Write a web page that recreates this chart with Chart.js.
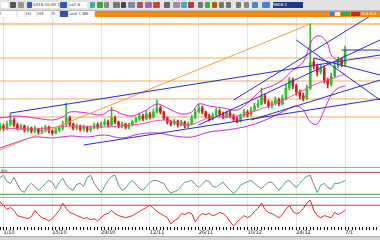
<!DOCTYPE html>
<html><head><meta charset="utf-8">
<script src="https://cdn.jsdelivr.net/npm/chart.js@4.4.1/dist/chart.umd.min.js"></script>
<style>
html,body{margin:0;padding:0;background:#fff;width:380px;height:240px;overflow:hidden;font-family:"DejaVu Sans",sans-serif}
.abs{position:absolute}
#tb{left:0;top:0;width:380px;height:10px;background:#e2e2e2;border-bottom:1px solid #b8b8b8}
#tabs{left:0;top:11px;width:380px;height:6px;background:#e9e9e9}
#orange{left:95px;top:11px;width:285px;height:6px;background:#f08a12}
.tx{font-size:4px;line-height:6px;color:#333;white-space:nowrap;overflow:hidden}
canvas{position:absolute;left:0}
#bottom{left:0;top:236px;width:380px;height:4px;background:#d6d6d6;border-top:1px solid #aaa}
</style></head><body>
<div id="tb" class="abs"></div>
<div id="tabs" class="abs"></div>
<div id="orange" class="abs"></div>
<canvas id="main" width="380" height="151" style="top:17px"></canvas>
<canvas id="osc1" width="380" height="30" style="top:168px"></canvas>
<canvas id="osc2" width="380" height="38" style="top:198px"></canvas>
<div class="abs" style="left:0;top:167px;width:380px;height:1px;background:#9aaea6"></div>
<div class="abs" style="left:0;top:197px;width:380px;height:1px;background:#b0b0b0"></div>
<div class="abs tx" style="left:1px;top:168px;font-size:4px;color:#444">Sto</div>
<div id="bottom" class="abs"></div>
<script>
// ---------- data ----------
const tickLabels = ['1/10','15/10','29/10','12/11','26/11','10/12','24/12','7/1'];
const firstOpen = 138;
const closes = [141,139,143,147,142,139,141,137,139,136,138,135,137,140,136,134,137,139,143,149,
  143,139,141,138,140,137,139,142,140,143,145,142,149,145,141,143,140,142,145,148,
  151,148,153,150,155,159,155,149,145,143,146,142,145,141,143,149,155,159,155,151,
  148,152,156,153,150,154,151,148,146,151,155,152,157,161,163,171,165,161,164,167,
  163,169,179,187,181,175,171,169,179,205,201,195,199,187,183,191,201,207,203,217];
const highs = [144,143,146,154,149,144,143,142,141,140,141,139,140,142,141,137,139,141,146,164,
  151,144,143,142,142,141,141,144,144,145,148,147,160,151,146,145,144,144,147,150,
  154,153,156,155,158,167,161,156,150,147,148,147,147,146,145,152,158,163,161,156,
  153,154,159,158,155,156,156,153,150,153,158,157,160,164,167,179,173,167,166,170,
  169,172,183,190,189,183,177,174,182,243,208,203,203,201,189,194,204,210,209,221];
const lows = [136,136,137,141,140,137,137,135,135,134,134,133,133,135,134,132,133,135,137,141,
  141,137,137,136,136,135,135,138,138,139,141,140,141,143,139,139,138,138,141,144,
  146,146,147,148,149,154,153,147,143,141,142,140,141,139,139,142,148,154,153,149,
  146,147,151,151,148,149,149,146,144,145,150,150,151,156,159,162,163,159,159,162,
  161,162,167,177,178,172,168,166,167,177,198,191,193,184,179,181,189,199,200,201];
const upperBand = [[0,149],[5,151],[10,149],[15,147],[18,150],[20,155],[25,154],[29,152],[32,157],[35,153],[38,151],[42,157],[45,163],[48,159],[52,153],[55,155],[57,163],[60,161],[64,159],[68,157],[72,167],[75,177],[78,181],[81,187],[84,197],[87,205],[89,223],[90,229],[92,231],[94,223],[95,212],[97,207],[99,212]];
const middleBand = [[0,139],[10,138],[20,141],[30,140],[40,143],[47,147],[54,142],[60,149],[68,151],[74,157],[80,165],[86,175],[90,182],[94,187],[99,193]];
const lowerBand = [[0,119],[5,125],[10,130],[15,129],[20,131],[25,130],[30,132],[35,129],[40,133],[45,134],[50,131],[55,130],[60,135],[65,137],[70,140],[74,144],[78,150],[82,157],[85,161],[87,157],[89,145],[91,143],[93,157],[95,172],[97,179],[99,181]];
const orangeTrend = [[0,117],[89,243]];
const levels = [243,209,186,168,150];
const blueLines = [
  [[3,154],[109,212]],
  [[24,122],[109,168]],
  [[67,167],[109,257]],
  [[57,142],[109,227]],
  [[72,147],[109,187]],
  [[85,227],[109,167]],
  [[90,209],[109,192]],
  [[98,217],[109,217]]
];
const stoch = [66,72,55,50,66,47,31,25,42,50,42,31,39,50,58,53,36,53,64,45,36,31,47,50,42,66,72,50,36,25,42,58,69,72,45,31,36,50,58,47,36,31,42,53,58,58,53,50,34,23,28,31,42,53,55,58,47,39,47,58,55,42,39,47,53,42,31,23,31,45,50,55,58,50,42,36,45,53,53,42,31,42,55,58,47,39,50,61,69,72,47,25,45,50,39,34,50,50,53,58];
const stochLevels = [80,20];
const rsi = [76,70,62,66,60,50,48,46,44,48,60,52,46,44,40,44,52,60,74,64,56,54,50,48,44,46,42,44,40,46,52,54,60,54,50,48,46,48,50,54,58,62,66,70,64,58,54,50,46,34,40,44,54,52,56,54,38,48,54,52,54,50,52,56,54,48,38,30,38,44,50,46,50,58,64,74,62,56,54,50,46,52,62,70,58,54,56,64,74,80,60,50,46,50,48,46,56,52,56,60];
const rsiLevel = 70;

// ---------- chrome (toolbar) ----------
const tbItems = [[1,7,'#fff'],[10,6,'#555'],[18,6,'#999'],[27,5,'#2f5db0'],[60,7,'#2f5db0'],[90,5,'#4aa'],[97,6,'#3a3'],[104,5,'#888'],[113,7,'#777'],[121,5,'#446'],[128,7,'#88a'],[137,6,'#a55'],[145,7,'#a6a'],[153,7,'#c44'],[164,6,'#666'],[173,7,'#a8a'],[181,6,'#4ac'],[188,6,'#c33'],[198,5,'#777'],[205,5,'#4a4'],[212,5,'#a60'],[219,5,'#777'],[226,5,'#777'],[236,5,'#777'],[244,5,'#888'],[252,6,'#48c'],[262,8,'#48c']];
const tb = document.getElementById('tb');
tbItems.forEach(([x,w,c])=>{const d=document.createElement('div');d.className='abs';d.style.cssText=`left:${x}px;top:2px;width:${w}px;height:6px;background:${c};border-radius:1px`;tb.appendChild(d);});
function addText(parent,x,y,w,h,bg,txt,col){const d=document.createElement('div');d.className='abs tx';d.style.cssText=`left:${x}px;top:${y}px;width:${w}px;height:${h}px;background:${bg};color:${col||'#333'};line-height:${h}px`;d.textContent=txt;parent.appendChild(d);}
addText(tb,33,2,26,6,'#fff','2016.10.09 12');
addText(tb,69,2,18,6,'#fff','co1 6');
addText(tb,273,2,30,6,'#1c3a8c','9606.1','#fff');
const tabs = document.getElementById('tabs');
addText(tabs,0,0,16,6,'#fff','t');
addText(tabs,18,0,6,6,'#fff','');
addText(tabs,26,0,10,6,'#fff','H1');
addText(tabs,38,0,12,6,'#fff','H4');
addText(tabs,52,0,6,6,'#fff','D');
addText(tabs,60,0,8,6,'#3a4fb0','');
addText(tabs,70,0,24,6,'#fff','usd 1 Wk');
const orange = document.getElementById('orange');
addText(orange,235,1,4,4,'#38c','');
addText(orange,240,1,5,4,'#fff','');
addText(orange,246,1,9,4,'#3a3','');
addText(orange,256,1,9,4,'#c22','');
addText(orange,267,0,18,6,'transparent','0.0 0.0','#fff');

// ---------- helpers ----------
const N = 110;
const slots = Array.from({length:N},(_,i)=>'s'+i);
function sparse(points){const a=new Array(N).fill(null);points.forEach(([i,v])=>{a[i]=v;});return a;}
const opens = [firstOpen].concat(closes.slice(0,-1));
const UP='#2fbf2f', DN='#d21e1e';
const candleCol = closes.map((c,i)=>c>=opens[i]?UP:DN);
const gridCol = (c)=> (c.index%14===1)?'#e4e4e4':'rgba(0,0,0,0)';
const baseOpts = (yMin,yMax)=>({
  responsive:false, animation:false, events:[],
  layout:{padding:0},
  plugins:{legend:{display:false},tooltip:{enabled:false}},
  scales:{
    x:{type:'category',offset:false,grid:{offset:false,color:gridCol,drawTicks:false},border:{display:false},ticks:{display:false,autoSkip:false}},
    y:{display:false,min:yMin,max:yMax}
  }
});
const lineDs = (data,color,w,extra)=>Object.assign({type:'line',data,borderColor:color,borderWidth:w,pointRadius:0,spanGaps:true,tension:0,fill:false,order:1},extra||{});

// ---------- main price panel ----------
const mainDs = [];
levels.forEach((v,k)=>mainDs.push(lineDs(sparse([[0,v],[N-1,v]]), k===0?'#f0902a':'#f3ad5e',1,{order:8})));
mainDs.push({type:'bar',data:lows.map((l,i)=>[l,highs[i]]),backgroundColor:candleCol,barThickness:1,grouped:false,order:7});
mainDs.push({type:'bar',data:closes.map((c,i)=>[opens[i],c]),backgroundColor:candleCol,barThickness:2,grouped:false,order:6});
mainDs.push(lineDs(sparse(upperBand),'#e020c8',1,{tension:0.35,order:4}));
mainDs.push(lineDs(sparse(middleBand),'#ff4a9a',1,{tension:0.35,order:4}));
mainDs.push(lineDs(sparse(lowerBand),'#c02ad8',1,{tension:0.35,order:4}));
mainDs.push(lineDs(sparse(orangeTrend),'#f39a3c',1,{order:3}));
blueLines.forEach(pts=>mainDs.push(lineDs(sparse(pts),'#2a2ad0',1,{order:2})));
new Chart(document.getElementById('main'),{type:'bar',data:{labels:slots,datasets:mainDs},options:baseOpts(99,250)});

// ---------- stochastic panel ----------
const o1 = [];
stochLevels.forEach((v,k)=>o1.push(lineDs(sparse([[0,v],[N-1,v]]),k===0?'#a84848':'#3f9f4a',1,{order:3})));
o1.push(lineDs(stoch,'#7a7a7a',1,{order:1,segment:{borderColor:c=>c.p1.parsed.y>c.p0.parsed.y?'#3ea596':'#7d7d7d'}}));
new Chart(document.getElementById('osc1'),{type:'line',data:{labels:slots,datasets:o1},options:baseOpts(10,92)});

// ---------- rsi panel with date axis ----------
const o2opts = baseOpts(28,84);
o2opts.scales.x = {type:'category',offset:false,
  grid:{offset:false,color:gridCol,drawTicks:true,tickLength:3,tickColor:'#111'},
  border:{display:false},
  ticks:{display:true,autoSkip:false,maxRotation:0,minRotation:0,padding:0,align:'start',color:'#222',font:{size:5,family:'DejaVu Sans'},
    callback:(v,i)=> (i%14===1)?(tickLabels[(i-1)/14]||''):''}};
const o2 = [lineDs(sparse([[0,rsiLevel],[N-1,rsiLevel]]),'#b04a4a',1,{order:3}), lineDs(rsi,'#e8222c',1,{order:1})];
new Chart(document.getElementById('osc2'),{type:'line',data:{labels:slots,datasets:o2},options:o2opts});
</script>
</body></html>
